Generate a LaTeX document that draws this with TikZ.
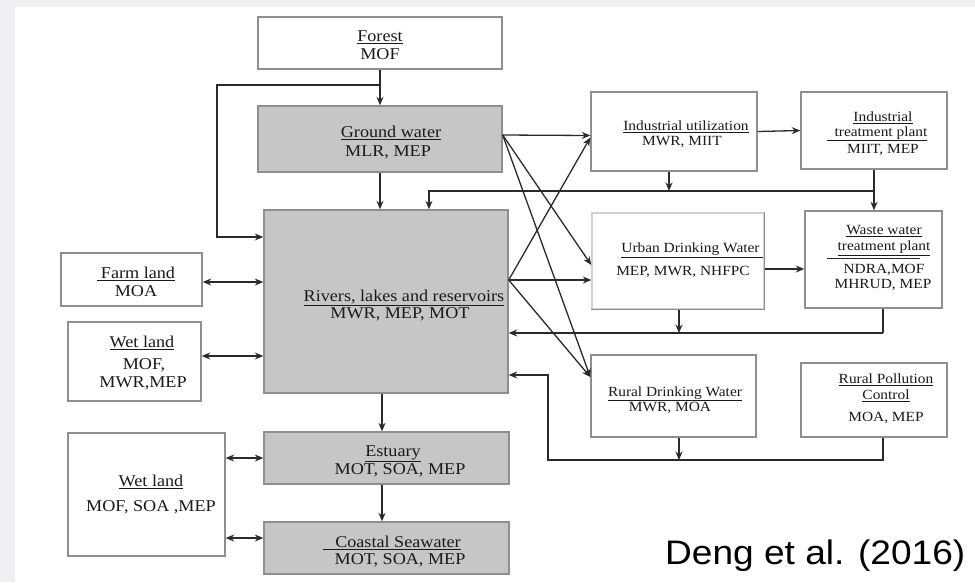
\documentclass[tikz,border=0pt]{standalone}
\usepackage{fontspec}
\setmainfont{Liberation Serif}[FakeStretch=1.1]
\newfontfamily\decksans{Liberation Sans}[FakeStretch=1.09]
\usetikzlibrary{arrows.meta}
\definecolor{bggray}{HTML}{EEF0F3}
\definecolor{fillgray}{HTML}{C6C6C6}
\definecolor{boxgray}{HTML}{8F8F8F}
\definecolor{lightbox}{HTML}{D0D0D0}
\definecolor{linecol}{HTML}{2A2A2A}
\definecolor{txtcol}{HTML}{1A1A1A}
\tikzset{
  box/.style={draw=boxgray, line width=1.4pt, fill=white, inner sep=0pt},
  gbox/.style={box, fill=fillgray},
  lbl/.style={font=\fontsize{16.5}{18}\selectfont, inner sep=0pt, anchor=base, text=txtcol},
  slbl/.style={font=\fontsize{14}{16}\selectfont, inner sep=0pt, anchor=base, text=txtcol},
  conn/.style={draw=linecol, line width=1.3pt},
  arr/.style={conn, -{Stealth[length=8.5pt,width=7pt]}},
  darr/.style={conn, {Stealth[length=8.5pt,width=7pt]}-{Stealth[length=8.5pt,width=7pt]}}
}
\begin{document}
\begin{tikzpicture}[x=1pt,y=-1pt]
\useasboundingbox (0,0) rectangle (975,582);
\fill[bggray] (0,0) rectangle (975,582);
\fill[white] (15,7) rectangle (975,582);

% boxes
\node[box,  minimum width=244pt, minimum height=52pt]  (forest) at (380,43) {};
\node[gbox, minimum width=244pt, minimum height=66pt]  (gw)     at (380,139) {};
\node[gbox, minimum width=244pt, minimum height=183pt] (riv)    at (386,301.5) {};
\node[gbox, minimum width=245pt, minimum height=52pt]  (est)    at (386.5,458) {};
\node[gbox, minimum width=245pt, minimum height=52pt]  (coast)  at (386.5,548) {};
\node[box,  minimum width=141pt, minimum height=53pt]  (farm)   at (131.5,279.5) {};
\node[box,  minimum width=133pt, minimum height=79pt]  (wetA)   at (134.5,361.5) {};
\node[box,  minimum width=157pt, minimum height=123pt] (wetB)   at (146.5,494.5) {};
\node[box,  minimum width=166pt, minimum height=79pt]  (indu)   at (674,131.5) {};
\node[box,  minimum width=146pt, minimum height=77pt]  (indt)   at (874,130.5) {};
\node[box,  draw=lightbox, minimum width=172pt, minimum height=96pt] (urban) at (678,261) {};
\draw[draw=boxgray, line width=1.4pt] (urban.north east) -- (urban.south east) -- (urban.south west);
\node[box,  minimum width=137pt, minimum height=97pt]  (waste)  at (873.5,259.5) {};
\node[box,  minimum width=165pt, minimum height=82pt]  (rural)  at (673.5,396) {};
\node[box,  minimum width=146pt, minimum height=74pt]  (rpc)    at (874,400) {};

% texts
\node[lbl] (forestA) at (380,41.5) {\underline{Forest}};
\node[lbl] (forestB) at (380,59.5) {MOF};
\node[lbl] (gwA) at (391,137.5) {\underline{Ground water}};
\node[lbl] (gwB) at (388,156.5) {MLR, MEP};
\node[lbl] (rivA) at (404,301.5) {\underline{Rivers, lakes and reservoirs}};
\node[lbl] (rivB) at (400,318.5) {MWR, MEP, MOT};
\node[lbl] (estA) at (393,456.5) {\underline{Estuary}};
\node[lbl] (estB) at (400,474.5) {MOT, SOA, MEP};
\node[lbl] (coastA) at (392,547.5) {\underline{\hspace{12pt}Coastal Seawater}};
\node[lbl] (coastB) at (400,564.5) {MOT, SOA, MEP};
\node[lbl] (farmA) at (136,278.5) {\underline{\hspace{4pt}Farm land}};
\node[lbl] (farmB) at (136,296.5) {MOA};
\node[lbl] (wetAa) at (142,347.5) {\underline{Wet land}};
\node[lbl] (wetAb) at (144,369.5) {MOF,};
\node[lbl] (wetAc) at (143,387.5) {MWR,MEP};
\node[lbl] (wetBa) at (151,486.5) {\underline{Wet land}};
\node[lbl] (wetBb) at (151,511.5) {MOF, SOA ,MEP};
\node[slbl] (induA) at (686,130.5) {\underline{Industrial utilization}};
\node[slbl] (induB) at (682,145) {MWR, MIIT};
\node[slbl] (indtA) at (883,121.5) {\underline{Industrial}};
\node[slbl] (indtB) at (877,136) {\underline{\hspace{8pt}treatment plant}};
\node[slbl] (indtC) at (883,153.5) {MIIT, MEP};
\node[slbl] (urbanA) at (692,252.5) {\underline{Urban Drinking Water\hspace{3pt}}};
\node[slbl] (urbanB) at (683,275.5) {MEP, MWR, NHFPC};
\node[slbl] (wasteA) at (884,234.5) {\underline{Waste water}};
\node[slbl] (wasteB) at (884,250.5) {\underline{treatment plant}};
\node[slbl] (wasteC) at (884,273) {NDRA,MOF};
\node[slbl] (wasteD) at (883,288) {MHRUD, MEP};
\node[slbl] (ruralA) at (675,396) {\underline{Rural Drinking Water}};
\node[slbl] (ruralB) at (670,411) {MWR, MOA};
\node[slbl] (rpcA) at (886,383.5) {\underline{Rural Pollution}};
\node[slbl] (rpcB) at (886,399.5) {\underline{Control}};
\node[slbl] (rpcC) at (886,421.5) {MOA, MEP};
\draw[draw=linecol, line width=0.7pt] (827,258) -- (920,258);

\node[font=\decksans\fontsize{34}{37}\selectfont, inner sep=0pt, anchor=base west] (cite) at (665,564) {Deng et al. (2016)};

% connectors
\coordinate (fj) at (380,85);
\coordinate (lc) at (217,237);
\draw[arr] (forest.south) -- (gw.north);
\draw[arr] (fj) -| (lc) -- (riv.west |- lc);
\draw[arr] (gw.south) -- (gw.south |- riv.north);

\coordinate (t1) at (874,191);
\coordinate (t2) at (429,191);
\draw[arr] (indt.south) -- (indt.south |- waste.north);
\draw[arr] (t1) -- (t2) -- (t2 |- riv.north);
\coordinate (iud) at ([xshift=-5pt]indu.south);
\draw[arr] (iud) -- (iud |- t1);
\draw[arr] (indu.east) -- (indt.west);
\coordinate (uw) at ([yshift=-8pt]urban.east);
\draw[arr] (uw) -- (waste.west |- uw);

\coordinate (b1) at (883,333);
\draw[conn] (b1 |- waste.south) -- (b1);
\draw[arr] (b1) -- (riv.east |- b1);
\coordinate (ud) at ([xshift=1pt]urban.south);
\draw[arr] (ud) -- (ud |- b1);

\coordinate (r1) at (883,460);
\coordinate (r2) at (548,460);
\coordinate (r3) at (548,375);
\draw[arr] (r1 |- rpc.south) -- (r1) -- (r2) -- (r3) -- (riv.east |- r3);
\coordinate (rd) at ([xshift=5.5pt]rural.south);
\draw[arr] (rd) -- (rd |- r1);

% crossing arrows
\coordinate (gws) at ([yshift=4pt]gw.east);
\coordinate (rvs) at ([yshift=21.5pt]riv.east);
\draw[arr] (gws) -- ([yshift=-4pt]indu.west);
\draw[arr] (gws) -- ([yshift=-4pt]urban.west);
\draw[arr] (gws) -- ([yshift=19pt]rural.west);
\draw[arr] (rvs) -- ([yshift=-6pt]indu.west);
\draw[arr] (rvs) -- (urban.west |- rvs);
\draw[arr] (rvs) -- ([yshift=19pt]rural.west);

% left double arrows
\coordinate (fa) at ([yshift=-2.5pt]farm.east);
\coordinate (wa) at ([yshift=5.5pt]wetA.east);
\coordinate (cw) at ([yshift=10pt]coast.west);
\draw[darr] (fa) -- (riv.west |- fa);
\draw[darr] (wa) -- (riv.west |- wa);
\draw[darr] (wetB.east |- est.west) -- (est.west);
\draw[darr] (wetB.east |- cw) -- (cw);

\coordinate (rs) at ([xshift=-4pt]riv.south);
\coordinate (es) at ([xshift=-4.5pt]est.south);
\draw[arr] (rs) -- (rs |- est.north);
\draw[arr] (es) -- (es |- coast.north);
\end{tikzpicture}
\end{document}
